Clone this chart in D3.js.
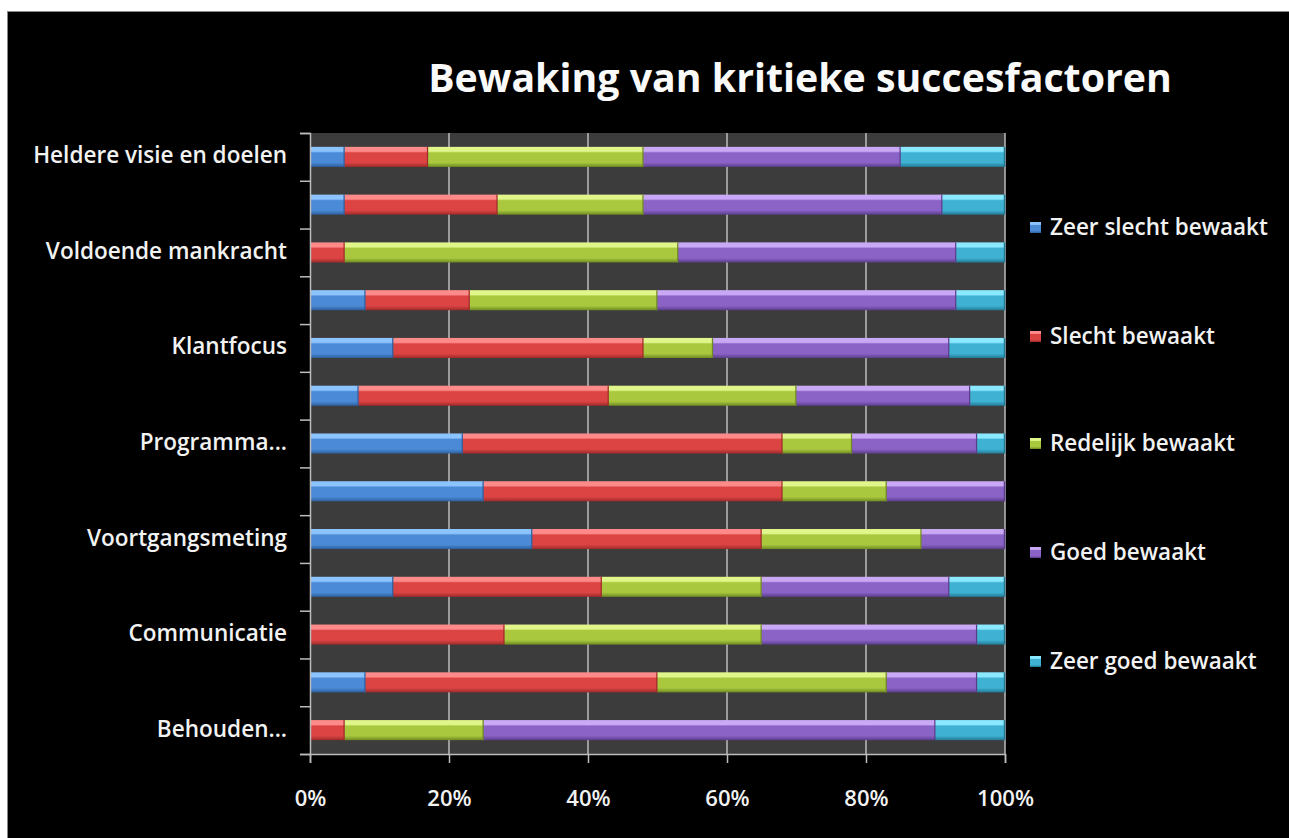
<!DOCTYPE html>
<html><head><meta charset="utf-8">
<script src="https://cdn.jsdelivr.net/npm/d3@7"></script>
<style>
html,body{margin:0;padding:0;background:#fff;}
svg{display:block;}
</style></head>
<body>
<svg id="chart" width="1289" height="838"></svg>
<script>
const title = "Bewaking van kritieke succesfactoren";
const categories = ["Heldere visie en doelen", "", "Voldoende mankracht", "", "Klantfocus", "", "Programma...", "", "Voortgangsmeting", "", "Communicatie", "", "Behouden..."];
const seriesNames = ["Zeer slecht bewaakt", "Slecht bewaakt", "Redelijk bewaakt", "Goed bewaakt", "Zeer goed bewaakt"];
const zeerSlecht = [5, 5, 0, 8, 12, 7, 22, 25, 32, 12, 0, 8, 0];
const slecht     = [12, 22, 5, 15, 36, 36, 46, 43, 33, 30, 28, 42, 5];
const redelijk   = [31, 21, 48, 27, 10, 27, 10, 15, 23, 23, 37, 33, 20];
const goed       = [37, 43, 40, 43, 34, 25, 18, 17, 12, 27, 31, 13, 65];
const zeerGoed   = [15, 9, 7, 7, 8, 5, 4, 0, 0, 8, 4, 4, 10];
const xTicks = [0, 0.2, 0.4, 0.6, 0.8, 1];

const colors = [
  {top:"#8cc4ff", mid:"#4a8ad6", bot:"#2d5f9e"},
  {top:"#ff8a8a", mid:"#dc4444", bot:"#9e2a2a"},
  {top:"#e0f58a", mid:"#a9c83e", bot:"#6f8a22"},
  {top:"#c9a8f5", mid:"#8b62c6", bot:"#5c3d8c"},
  {top:"#8ae8ff", mid:"#3fb2d4", bot:"#237a96"}
];
const FONT = "'Open Sans', Lato, sans-serif";

const svg = d3.select("#chart");

// fit font size so a sample string has a given width
function fitSize(text, weight, target, base) {
  const t = svg.append("text").attr("font-family",FONT).attr("font-weight",weight).attr("font-size",base).text(text);
  const w = t.node().getComputedTextLength();
  t.remove();
  return base * target / w;
}
const labelSize = fitSize("Heldere visie en doelen", 600, 254, 20);
const titleSize = fitSize(title, 700, 744, 38);
const legendSize = fitSize("Zeer slecht bewaakt", 600, 218, 20);
const tickSize = fitSize("100%", 600, 57, 20);

// background
svg.append("rect").attr("x",7).attr("y",11).attr("width",1289-7).attr("height",838-11).attr("fill","#000");
svg.append("line").attr("x1",7).attr("x2",1289).attr("y1",11.5).attr("y2",11.5).attr("stroke","#888").attr("stroke-width",1);
svg.append("line").attr("x1",7.5).attr("x2",7.5).attr("y1",11).attr("y2",838).attr("stroke","#888").attr("stroke-width",1);

const defs = svg.append("defs");
colors.forEach((c,i)=>{
  const g = defs.append("linearGradient").attr("id","g"+i).attr("x1",0).attr("x2",0).attr("y1",0).attr("y2",1);
  g.append("stop").attr("offset","0%").attr("stop-color",c.top);
  g.append("stop").attr("offset","22%").attr("stop-color",c.top);
  g.append("stop").attr("offset","30%").attr("stop-color",c.mid);
  g.append("stop").attr("offset","78%").attr("stop-color",c.mid);
  g.append("stop").attr("offset","100%").attr("stop-color",c.bot);
});

const L = 310, R = 1005, T = 133, B = 754;
const x = d3.scaleLinear().domain([0,1]).range([L,R]);
const y = d3.scaleBand().domain(d3.range(categories.length)).range([T,B]).paddingInner(0.58).paddingOuter(0.29);

// plot area
svg.append("rect").attr("x",L).attr("y",T).attr("width",R-L).attr("height",B-T).attr("fill","#3c3c3c");
// gridlines
svg.append("g").selectAll("line").data(xTicks.slice(1)).join("line")
  .attr("x1",d=>x(d)).attr("x2",d=>x(d)).attr("y1",T).attr("y2",B)
  .attr("stroke","#bdbdbd").attr("stroke-width",1.5);

// data stacking
const table = categories.map((c,i)=>({i, v:[zeerSlecht[i],slecht[i],redelijk[i],goed[i],zeerGoed[i]]}));
const stack = d3.stack().keys([0,1,2,3,4]).value((d,k)=>d.v[k]/d3.sum(d.v));
const layers = stack(table);

const gBars = svg.append("g");
layers.forEach((layer,k)=>{
  gBars.append("g").selectAll("rect").data(layer.filter(d=>d[1]-d[0]>0)).join("rect")
    .attr("x",d=>x(d[0])).attr("y",d=>y(d.data.i))
    .attr("width",d=>x(d[1])-x(d[0])).attr("height",y.bandwidth())
    .attr("fill","url(#g"+k+")");
  gBars.append("g").selectAll("line").data(layer.filter(d=>d[1]-d[0]>0)).join("line")
    .attr("x1",d=>x(d[1])-0.5).attr("x2",d=>x(d[1])-0.5)
    .attr("y1",d=>y(d.data.i)).attr("y2",d=>y(d.data.i)+y.bandwidth())
    .attr("stroke",colors[k].bot).attr("stroke-width",1.5);
});

// axes
const yAxis = d3.axisLeft(d3.scaleLinear().domain([0,categories.length]).range([T,B]))
  .tickValues(d3.range(categories.length+1)).tickSize(10).tickFormat("");
const gy = svg.append("g").attr("transform",`translate(${L},0)`).call(yAxis);
gy.selectAll("path,line").attr("stroke","#bdbdbd").attr("stroke-width",1.5);

const xAxis = d3.axisBottom(x).tickValues(xTicks).tickSize(9).tickFormat(d3.format(".0%"));
const gx = svg.append("g").attr("transform",`translate(0,${B})`).call(xAxis);
gx.select(".domain").attr("stroke","#bdbdbd").attr("stroke-width",1.5);
gx.selectAll(".tick line").attr("stroke","#bdbdbd").attr("stroke-width",1.5);
gx.selectAll(".tick text").attr("fill","#f2f2f2").attr("font-family",FONT)
  .attr("font-size",tickSize).attr("font-weight",600).attr("dy",0).attr("y",52);

// category labels
svg.append("g").selectAll("text").data(categories).join("text")
  .attr("x",287).attr("y",(d,i)=>y(i)+y.bandwidth()/2+6.5)
  .attr("text-anchor","end").attr("fill","#f2f2f2")
  .attr("font-family",FONT).attr("font-size",labelSize).attr("font-weight",600)
  .text(d=>d);

// title
svg.append("text").attr("x",800).attr("y",92).attr("text-anchor","middle")
  .attr("fill","#fafafa").attr("font-family",FONT)
  .attr("font-size",titleSize).attr("font-weight",700).text(title);

// legend
const legY = [228, 337, 444, 553, 662];
const leg = svg.append("g").selectAll("g").data(seriesNames).join("g")
  .attr("transform",(d,i)=>`translate(1030,${legY[i]})`);
leg.append("rect").attr("x",0).attr("y",-6).attr("width",11).attr("height",11)
  .attr("fill",(d,i)=>`url(#g${i})`);
leg.append("text").attr("x",20).attr("y",7).attr("fill","#f2f2f2")
  .attr("font-family",FONT).attr("font-size",legendSize).attr("font-weight",600)
  .text(d=>d);
</script>
</body></html>
